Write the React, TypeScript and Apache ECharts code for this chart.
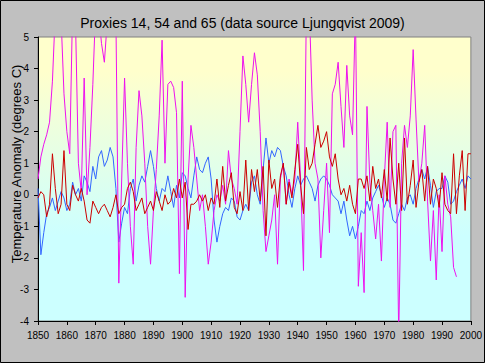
import React, { useEffect, useRef } from "react";
import * as echarts from "echarts";

const titleText = "Proxies 14, 54 and 65 (data source Ljungqvist 2009)";
const yAxisTitle = "Temperature Anomaly (degrees C)";
const startYear = 1850;

// Proxy 14 (magenta), 1850-1995
const magentaValues = [
  0.5, 1.2, 1.6, 1.9, 2.3, 3.6, 5.8, 6.2, 5.6, 3.2,
  2.0, 1.3, 6.0, 5.5, 1.0, 0.1, 3.7, 0.0, 1.5, 3.5,
  6.0, 5.8, 4.8, 4.2, 5.5, 6.0, 6.0, 5.6, -2.8, 0.5,
  3.7, 1.0, -1.0, -2.2, 1.5, 3.3, 2.5, 1.0, -1.0, -2.2,
  -0.5, 0.8, 2.5, 4.9, 1.0, 3.5, 3.6, 3.4, 2.6, -2.5,
  3.6, -3.25, 0.5, 2.2, 1.5, 0.5, -0.5, 0.0, -1.0, -2.2,
  -1.5, -0.5, 0.0, -0.2, 0.3, -0.3, 1.4, 0.5, 0.2, -0.3,
  2.0, 4.4, 3.5, 2.3, 3.5, 4.5, 3.8, 2.0, -0.5, -1.8,
  -1.3, -0.8, 0.0, -2.2, 0.5, 1.0, -0.3, 0.5, 0.0, 0.5,
  2.3, 0.5, -2.4, 6.0, 6.0, 3.0, 1.0, 0.5, -2.0, -0.5,
  1.0, -1.2, 3.2, 3.5, 4.2, 2.8, 1.5, 4.1, 2.5, 1.9,
  6.0, -2.9, -1.2, -3.1, 2.8, 0.4, -0.5, -1.4, -0.3, -2.1,
  0.5, 2.3, -0.4, 2.0, 2.2, -4.5, 1.0, 2.2, 1.5, 2.5,
  4.6, 2.4, 0.4, 1.0, 2.2, -0.2, -2.1, -0.5, -2.7, 0.0,
  -1.8, 0.6, -0.3, -0.7, -2.3, -2.6,
];

// Proxy 54 (red), 1850-2000
const redValues = [
  -0.1, 0.1, 0.0, -0.7, -0.3, 1.3, 0.2, -0.6, -0.3, 1.4,
  -0.3, -0.5, 0.3, 0.0, -0.2, 0.2, -0.2, -0.8, -0.9, -0.2,
  -0.4, -0.6, -0.4, -0.3, -0.5, -0.7, -0.4, 0.0, -0.6, -0.4,
  -0.3, 0.2, 0.4, 0.1, -0.5, -0.3, -0.1, -0.6, -0.4, -0.2,
  -0.5, 0.1, -0.2, -0.5, 0.0, -0.3, -0.2, 0.2, -0.1, 0.5,
  -0.1, 0.4, -1.1, -0.3, -0.3, -0.2, 0.0, -0.2, 0.0, -0.5,
  -0.1, -0.3, 0.5, -0.4, 0.9, -0.2, 0.3, 0.7, -0.4, -0.6,
  0.1, -0.5, 1.1, -0.5, 0.8, 0.1, 0.8, -0.2, 0.9, -1.3,
  1.1, 0.2, 0.5, -0.4, 0.6, 1.0, -0.3, 0.4, -0.1, 0.8,
  1.6, 0.3, -0.6, 1.5, 0.8, 1.0, 1.6, 2.2, 1.5, 1.7,
  2.0, 1.2, 0.9, 1.3, 0.5, 0.0, 0.2, -0.2, 0.3, -0.3,
  -0.6, 0.5, 0.5, 0.2, 0.6, -0.2, 0.9, 0.2, 0.5, -0.1,
  0.8, -0.2, 1.8, 0.5, -0.3, 1.0, -0.5, 1.8, -0.3, 0.3,
  1.1, -0.4, 0.4, 0.8, -0.2, 0.9, -0.3, 0.5, 0.2, -0.4,
  0.7, -0.3, -0.5, -0.6, 1.3, -0.6, 0.6, 1.4, -0.5, 1.3,
  1.3,
];

// Proxy 65 (blue), 1850-2000
const blueValues = [
  0.2, -1.9, -1.2, -0.6, -0.4, -0.1, -0.5, -0.2, 0.1, -0.1,
  -0.5, -0.3, 0.4, 0.0, 0.2, -0.2, 0.6, 0.4, 0.1, 0.9,
  0.5, 1.2, 1.4, 0.9, 1.1, 1.5, 1.2, 0.2, -1.5, -0.9,
  -0.4, -0.6, 0.2, 0.5, -0.2, 0.3, 0.6, 0.4, 0.9, 1.4,
  0.9, 0.2, -0.2, 0.2, 0.1, 0.6, 0.1, -0.4, 0.3, -0.1,
  0.7, 0.6, 0.2, -0.1, 0.6, 1.2, 0.8, 0.7, 1.0, 1.2,
  0.5, -0.8, -1.5, -1.0, -0.6, -0.4, -0.5, -0.1, -0.2, -0.7,
  -0.8, -0.5, -0.3, -0.5, 0.4, 0.6, 0.0, -0.3, 0.8, 1.8,
  1.0, 1.4, 1.2, 1.5, 1.4, 0.9, 0.6, 0.0, -0.4, 0.2,
  0.6, 0.3, 0.5, 0.6, 0.4, 0.2, -0.2, 0.3, 0.5, 0.6,
  0.5, 0.3, 0.0, -0.1, -0.2, -0.6, -0.2, -0.8, -1.3, -1.0,
  -1.4, -1.0, -0.5, -0.6, -0.2, -0.5, -0.1, 0.1, 0.3, 0.0,
  -0.4, -0.1, -0.3, -0.8, -0.9, -0.6, -0.3, -0.5, -0.1, 0.0,
  -0.3, 0.2, 0.5, 0.8, 0.5, 0.9, 0.3, -0.4, 0.1, 0.2,
  0.2, 0.6, 0.4, -0.3, -0.2, 0.1, 0.3, 0.5, 0.2, 0.6,
  0.5,
];

const toPairs = (vals: number[]) => vals.map((v, i) => [startYear + i, v]);

export default function App() {
  const ref = useRef<HTMLDivElement>(null);
  useEffect(() => {
    if (!ref.current) return;
    const chart = echarts.init(ref.current, null, { renderer: "svg" });
    const font = "Arial, 'Liberation Sans', sans-serif";
    const lineSeries = (name: string, vals: number[], color: string) => ({
      name,
      type: "line",
      data: toPairs(vals),
      showSymbol: false,
      symbol: "none",
      clip: true,
      lineStyle: { color, width: 1 },
      itemStyle: { color },
    });
    chart.setOption({
      animation: false,
      backgroundColor: "#C0C0C0",
      title: {
        text: titleText,
        left: "center",
        top: 11,
        textStyle: { fontFamily: font, fontSize: 14, fontWeight: "normal", color: "#000" },
      },
      grid: {
        left: 38,
        top: 37,
        width: 435,
        height: 284,
        show: true,
        borderColor: "#808080",
        borderWidth: 1,
        backgroundColor: {
          type: "linear",
          x: 0,
          y: 0,
          x2: 0,
          y2: 1,
          colorStops: [
            { offset: 0, color: "#FFFFCC" },
            { offset: 0.12, color: "#FFFFCC" },
            { offset: 0.7, color: "#CCFFFF" },
            { offset: 1, color: "#CCFFFF" },
          ],
        },
      },
      xAxis: {
        type: "value",
        min: 1850,
        max: 2000,
        interval: 10,
        splitLine: { show: false },
        axisLine: { onZero: false, lineStyle: { color: "#000", width: 1 } },
        axisTick: { show: true, inside: false, length: 4, lineStyle: { color: "#000" } },
        axisLabel: {
          fontFamily: font,
          fontSize: 10,
          color: "#000",
          margin: 9,
          formatter: (v: number) => String(v),
        },
      },
      yAxis: {
        type: "value",
        min: -4,
        max: 5,
        interval: 1,
        splitLine: { show: false },
        axisLine: { show: true, onZero: false, lineStyle: { color: "#000", width: 1 } },
        axisTick: { show: true, inside: false, length: 4, lineStyle: { color: "#000" } },
        axisLabel: { fontFamily: font, fontSize: 10, color: "#000", margin: 9 },
      },
      graphic: [
        {
          type: "text",
          x: 16,
          y: 164,
          rotation: Math.PI / 2,
          style: {
            text: yAxisTitle,
            fontFamily: font,
            fontSize: 13,
            fill: "#000",
            align: "center",
            verticalAlign: "middle",
          },
        },
        {
          type: "rect",
          shape: { x: 0.5, y: 0.5, width: 484, height: 362 },
          style: { fill: "none", stroke: "#000", lineWidth: 1 },
          silent: true,
        },
      ],
      series: [
        lineSeries("Proxy 65", blueValues, "#3366FF"),
        lineSeries("Proxy 14", magentaValues, "#EE11EE"),
        lineSeries("Proxy 54", redValues, "#CC0000"),
      ],
    });
    return () => chart.dispose();
  }, []);
  return (
    <div
      ref={ref}
      style={{ position: "absolute", left: 0, top: 0, width: 485, height: 363 }}
    />
  );
}
